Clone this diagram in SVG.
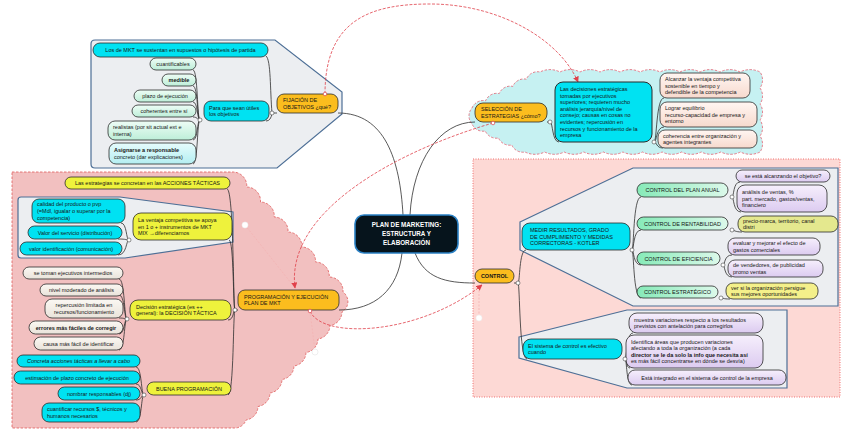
<svg xmlns="http://www.w3.org/2000/svg" width="848" height="433" viewBox="0 0 848 433">
<defs>
<linearGradient id="gMint" x1="0" y1="0" x2="0" y2="1"><stop offset="0" stop-color="#eefdf6"/><stop offset="1" stop-color="#bdeed8"/></linearGradient>
<linearGradient id="gLcy" x1="0" y1="0" x2="0" y2="1"><stop offset="0" stop-color="#e6fcfc"/><stop offset="1" stop-color="#b4eef2"/></linearGradient>
<linearGradient id="gLav" x1="0" y1="0" x2="0" y2="1"><stop offset="0" stop-color="#f6effc"/><stop offset="1" stop-color="#dccbf0"/></linearGradient>
<linearGradient id="gPeach" x1="0" y1="0" x2="0" y2="1"><stop offset="0" stop-color="#fff6f2"/><stop offset="1" stop-color="#f7d9cd"/></linearGradient>
<linearGradient id="gWh" x1="0" y1="0" x2="0" y2="1"><stop offset="0" stop-color="#fbf8f3"/><stop offset="1" stop-color="#e9e3da"/></linearGradient>
<linearGradient id="gGr" x1="0" y1="0" x2="1" y2="0"><stop offset="0" stop-color="#86eab8"/><stop offset="1" stop-color="#dcf9ea"/></linearGradient>
<marker id="ar" viewBox="0 0 10 10" refX="9" refY="5" markerWidth="6" markerHeight="6" orient="auto" markerUnits="userSpaceOnUse"><path d="M0,0 L10,5 L0,10 z" fill="#e0404a"/></marker>
<style>
.t{font-family:"Liberation Sans",Arial,sans-serif;font-size:5.5px;fill:#161616}
.c{text-anchor:middle}
.b{font-weight:bold}
.i{font-style:italic}
.n{stroke:#2b2b2b;stroke-width:0.8}
.cy{fill:#00e2f2}
.or{fill:#fbbd1e}
.ye{fill:#eef23c}
.mi{fill:url(#gMint)}
.lc{fill:url(#gLcy)}
.la{fill:url(#gLav)}
.pe{fill:url(#gPeach)}
.wh{fill:url(#gWh)}
.gr{fill:url(#gGr)}
.ol{fill:#e4e88e}
.yl{fill:#f4f08a}
.conn path{fill:none;stroke:#2e2e2e;stroke-width:0.8}
.btn circle{fill:#fff;stroke:#444;stroke-width:0.6}
.rel{fill:none;stroke:#e0404a;stroke-width:0.8;stroke-dasharray:3 1.5}
.faint{fill:none;stroke:#f2b4b4;stroke-width:0.8;stroke-dasharray:2 1.5}
.poly{fill:#eceef1;stroke:#4d6f96;stroke-width:1.2}
</style>
</defs>
<rect width="848" height="433" fill="#ffffff"/>

<!-- regions -->
<g id="regions">
<path d="M12,172 L233,172 a14 14 0 0 1 13.75 15 a14 14 0 0 1 13.75 15 a14 14 0 0 1 13.75 15 a14 14 0 0 1 13.75 15 a14 14 0 0 1 13.75 15 a14 14 0 0 1 13.75 15 a14 14 0 0 1 13.75 15 a14 14 0 0 1 13.75 15 a12 12 0 0 1 -1 20 a14 14 0 0 1 -12 13.5 a14 14 0 0 1 -12 13.5 a14 14 0 0 1 -12 13.5 a14 14 0 0 1 -12 13.5 a14 14 0 0 1 -12 13.5 a14 14 0 0 1 -12 13.5 a14 14 0 0 1 -12 13.5 a14 14 0 0 1 -12 13.5 a12 12 0 0 1 -12 8 L12,428 Z" fill="#f2c0c0" stroke="#e05a5a" stroke-width="0.8" stroke-dasharray="2.5 1.5"/>
<rect x="473" y="159" width="367" height="238" fill="#fdd9d5" stroke="#f07070" stroke-width="1" stroke-dasharray="1 1.5"/>
<path d="M472,108 a12 12 0 0 1 13.6 -7.2 a12 12 0 0 1 13.6 -7.2 a12 12 0 0 1 13.6 -7.2 a12 12 0 0 1 13.6 -7.2 a12 12 0 0 1 13.6 -7.2 a22 22 0 0 1 20 0 a22 22 0 0 1 20 0 a22 22 0 0 1 20 0 a22 22 0 0 1 20 0 a22 22 0 0 1 20 0 a22 22 0 0 1 20 0 a22 22 0 0 1 20 0 a22 22 0 0 1 20 0 a22 22 0 0 1 20 0 a22 22 0 0 1 20 0 a22 22 0 0 1 20 0 a14 14 0 0 1 0 16 a14 14 0 0 1 0 16 a14 14 0 0 1 0 16 a14 14 0 0 1 0 16 a14 14 0 0 1 0 16 a22 22 0 0 1 -19.58 0 a22 22 0 0 1 -19.58 0 a22 22 0 0 1 -19.58 0 a22 22 0 0 1 -19.58 0 a22 22 0 0 1 -19.58 0 a22 22 0 0 1 -19.58 0 a22 22 0 0 1 -19.58 0 a22 22 0 0 1 -19.58 0 a22 22 0 0 1 -19.58 0 a22 22 0 0 1 -19.58 0 a22 22 0 0 1 -19.58 0 a22 22 0 0 1 -19.58 0 a12 12 0 0 1 -13.25 -7 a12 12 0 0 1 -13.25 -7 a12 12 0 0 1 -13.25 -7 a12 12 0 0 1 -13.25 -7 a12 12 0 0 1 0 -16 Z" fill="#c6f1f2" stroke="#e06070" stroke-width="0.8" stroke-dasharray="2.5 1.5"/>
<path class="poly" d="M91,44 Q91,40 95,40 L275,40 L342,92 L342,114 L277,168 L95,168 Q91,168 91,164 Z"/>
<path class="poly" d="M18,200 Q18,197 21,197 L120,197 L233,212 L233,242 L125,258 L21,258 Q18,258 18,255 Z"/>
<path class="poly" d="M520,222 L633,168 L838,168 L838,306 L633,306 L520,250 Z"/>
<path class="poly" d="M519,337 L627,310 L787,310 L787,388 L627,388 L519,358 Z"/>
</g>

<!-- connectors -->
<g id="connectors">
<g class="conn">
<path d="M403,215 C400,160 385,113 338,113"/>
<path d="M410,215 C413,160 440,122 475,122"/>
<path d="M402,253 C398,290 375,310 339,310"/>
<path d="M415,253 C425,278 445,283 475,283"/>
<path d="M277,113 L272,113"/>
<path d="M272,113 C270,90 271,60 266,56"/>
<path d="M272,113 Q271,121 266,121"/>
<path d="M200,120 C197,120 198,70 193,70"/>
<path d="M200,120 C197,120 198,86 193,86"/>
<path d="M200,120 C197,120 198,102 193,102"/>
<path d="M200,120 C197,120 198,117 193,117"/>
<path d="M200,120 C197,120 198,140 193,140"/>
<path d="M200,120 C197,120 198,164 193,164"/>
<path d="M547,122 L550,122"/>
<path d="M550,122 C553,122 552,142 559,142"/>
<path d="M654,142 C657,142 656,98 664,98"/>
<path d="M654,142 C657,142 656,127 664,127"/>
<path d="M654,142 C657,142 656,148 663,148"/>
<path d="M238,310 L235,310"/>
<path d="M235,310 C233,310 234,189 227,189"/>
<path d="M235,310 C233,310 234,240 229,240"/>
<path d="M235,310 C233,310 234,320 228,320"/>
<path d="M235,310 C233,310 234,395 228,395"/>
<path d="M129,240 C126,240 127,223 121,223"/>
<path d="M129,240 C126,240 127,239 118,239"/>
<path d="M129,240 C126,240 127,255 118,255"/>
<path d="M127,319 C124,319 125,279 119,279"/>
<path d="M127,319 C124,319 125,295 119,295"/>
<path d="M127,319 C124,319 125,318 119,318"/>
<path d="M127,319 C124,319 125,334 119,334"/>
<path d="M127,319 C124,319 125,350 119,350"/>
<path d="M144,395 C141,395 142,367 136,367"/>
<path d="M144,395 C141,395 142,384 136,384"/>
<path d="M144,395 C141,395 142,400 136,400"/>
<path d="M144,395 C141,395 142,422 136,422"/>
<path d="M514,283 L518,283"/>
<path d="M518,283 C520,283 519,250 526,250"/>
<path d="M518,283 C520,283 519,359 527,359"/>
<path d="M630,250 L632,250"/>
<path d="M632,250 C634,250 633,197 641,197"/>
<path d="M632,250 C634,250 633,230 641,230"/>
<path d="M632,250 C634,250 633,265 641,265"/>
<path d="M632,250 C634,250 633,298 641,298"/>
<path d="M732,197 C734,197 733,182 740,182"/>
<path d="M732,197 C734,197 733,212 741,212"/>
<path d="M732,230 C734,230 735,232 742,232"/>
<path d="M723,265 C725,265 724,255 732,255"/>
<path d="M723,265 C725,265 724,277 732,277"/>
<path d="M721,298 C723,298 723,299 730,299"/>
<path d="M625,359 C627,359 626,333 633,333"/>
<path d="M625,359 C627,359 626,368 630,368"/>
<path d="M625,359 C627,359 626,385 632,385"/>
</g>
<path class="faint" d="M245,225 L295,288"/>
<path class="faint" d="M310,311 L315,351"/>
<path class="faint" d="M479,287 L479,318"/>
<path class="rel" d="M325,94 C325,20 370,4 430,4 C500,4 560,40 578,82" marker-end="url(#ar)"/>
<path class="rel" d="M493,123 C400,150 285,210 295,288" marker-end="url(#ar)"/>
<path class="rel" d="M310,311 C322,340 420,335 482,285" marker-end="url(#ar)"/>
</g>

<!-- nodes -->
<g id="n-center"><rect x="355" y="215" width="103" height="38" rx="9" fill="#06141c" stroke="#2a80c4" stroke-width="1.6"/>
<text class="t c b" x="406.5" y="227" style="fill:#fff;font-size:6.3px">PLAN DE MARKETING:</text>
<text class="t c b" x="406.5" y="236" style="fill:#fff;font-size:6.3px">ESTRUCTURA Y</text>
<text class="t c b" x="406.5" y="245" style="fill:#fff;font-size:6.3px">ELABORACIÓN</text></g>

<g id="n-fijacion"><rect class="n or" x="277" y="94" width="61" height="19" rx="7"/>
<text class="t" x="283" y="102.2">FIJACIÓN DE</text><text class="t" x="283" y="108.8">OBJETIVOS ¿qué?</text></g>
<g id="n-losmkt"><rect class="n cy" x="93" y="43" width="175" height="14" rx="7"/>
<text class="t c" x="180.5" y="52">Los de MKT se sustentan en supuestos o hipótesis de partida</text></g>
<g id="n-para"><rect class="n cy" x="204" y="101" width="65" height="20" rx="7"/>
<text class="t" x="209" y="109.7">Para que sean útiles</text><text class="t" x="209" y="116.3">los objetivos</text></g>
<g id="n-cuant"><rect class="n mi" x="150" y="58" width="46" height="12" rx="6"/><text class="t c" x="173" y="66">cuantificables</text></g>
<g id="n-medible"><rect class="n mi" x="162" y="74" width="34" height="12" rx="6"/><text class="t c b" x="179" y="82">medible</text></g>
<g id="n-plazo"><rect class="n mi" x="134" y="90" width="62" height="12" rx="6"/><text class="t c" x="165" y="98">plazo de ejecución</text></g>
<g id="n-coher"><rect class="n mi" x="132" y="105" width="64" height="12" rx="6"/><text class="t c" x="164" y="113">coherentes entre sí</text></g>
<g id="n-real"><rect class="n mi" x="108" y="121" width="88" height="19" rx="7"/>
<text class="t" x="113" y="129.2">realistas (por sit actual ext e</text><text class="t" x="113" y="135.8">interna)</text></g>
<g id="n-asig"><rect class="n lc" x="109" y="143" width="87" height="21" rx="7"/>
<text class="t b" x="114" y="152.2">Asignarse a responsable</text><text class="t" x="114" y="158.8">concreto (dar explicaciones)</text></g>

<g id="n-seleccion"><rect class="n or" x="475" y="103" width="72" height="19" rx="8"/>
<text class="t" x="481" y="111.2">SELECCIÓN DE</text><text class="t" x="481" y="117.8">ESTRATEGIAS ¿cómo?</text></g>
<g id="n-decis"><rect class="n cy" x="555" y="82" width="97" height="60" rx="8" style="stroke-width:1"/>
<text class="t" x="560" y="90.9">Las decisiones estratégicas</text>
<text class="t" x="560" y="97.5">tomadas por ejecutivos</text>
<text class="t" x="560" y="104.1">superiores; requieren mucho</text>
<text class="t" x="560" y="110.7">análisis jerarquía/nivel de</text>
<text class="t" x="560" y="117.3">consejo; causas en cosas no</text>
<text class="t" x="560" y="123.9">evidentes; repercusión en</text>
<text class="t" x="560" y="130.5">recursos y funcionamiento de la</text>
<text class="t" x="560" y="137.1">empresa</text></g>
<g id="n-alcanzar"><rect class="n pe" x="660" y="73" width="90" height="25" rx="7"/>
<text class="t" x="665" y="80.9">Alcanzar la ventaja competitiva</text><text class="t" x="665" y="87.5">sostenible en tiempo y</text><text class="t" x="665" y="94.1">defendible de la competencia</text></g>
<g id="n-lograr"><rect class="n pe" x="660" y="102" width="97" height="25" rx="7"/>
<text class="t" x="665" y="109.9">Lograr equilibrio</text><text class="t" x="665" y="116.5">recurso-capacidad de empresa y</text><text class="t" x="665" y="123.1">entorno</text></g>
<g id="n-coherencia"><rect class="n pe" x="658" y="130" width="99" height="18" rx="7"/>
<text class="t" x="663" y="137.7">coherencia entre organización y</text><text class="t" x="663" y="144.3">agentes integrantes</text></g>

<g id="n-programacion"><rect class="n or" x="238" y="290" width="101" height="20" rx="7"/>
<text class="t" x="244" y="298.7">PROGRAMACIÓN Y EJECUCIÓN</text><text class="t" x="244" y="305.3">PLAN DE MKT</text></g>
<g id="n-estrat"><rect class="n ye" x="65" y="177" width="165" height="12" rx="6"/><text class="t c" x="147.5" y="185">Las estrategias se concretan en las ACCIONES TÁCTICAS</text></g>
<g id="n-calidad"><rect class="n cy" x="32" y="199" width="93" height="24" rx="7"/>
<text class="t" x="37" y="206.4">calidad del producto o pvp</text><text class="t" x="37" y="213">(=Mdl, igualar o superar por la</text><text class="t" x="37" y="219.6">competencia)</text></g>
<g id="n-valorserv"><rect class="n cy" x="28" y="226" width="94" height="13" rx="6.5"/><text class="t c" x="75" y="234.5">Valor del servicio (distribución)</text></g>
<g id="n-valorid"><rect class="n cy" x="20" y="242" width="102" height="13" rx="6.5"/><text class="t c" x="71" y="250.5">valor identificación (comunicación)</text></g>
<g id="n-ventaja"><rect class="n ye" x="133" y="213" width="99" height="27" rx="8"/>
<text class="t" x="138" y="221.9">La ventaja competitiva se apoya</text><text class="t" x="138" y="228.5">en 1 o + instrumentos de MKT</text><text class="t" x="138" y="235.1">MIX →diferenciarnos</text></g>
<g id="n-setoman"><rect class="n wh" x="23" y="267" width="100" height="12" rx="6"/><text class="t c" x="73" y="275">se toman ejecutivos intermedios</text></g>
<g id="n-nivel"><rect class="n wh" x="40" y="284" width="83" height="12" rx="6"/><text class="t c" x="81.5" y="292">nivel moderado de análisis</text></g>
<g id="n-reperc"><rect class="n wh" x="45" y="299" width="78" height="19" rx="7"/>
<text class="t c" x="84" y="307.2">repercusión limitada en</text><text class="t c" x="84" y="313.8">recursos/funcionamiento</text></g>
<g id="n-errores"><rect class="n wh" x="29" y="321" width="94" height="13" rx="6.5"/><text class="t c b" x="76" y="329.5">errores más fáciles de corregir</text></g>
<g id="n-causa"><rect class="n wh" x="34" y="337" width="89" height="13" rx="6.5"/><text class="t c" x="78.5" y="345.5">causa más fácil de identificar</text></g>
<g id="n-decision"><rect class="n ye" x="130" y="300" width="101" height="20" rx="8"/>
<text class="t" x="136" y="308.7">Decisión estratégica (es ++</text><text class="t" x="136" y="315.3">general): la DECISIÓN TÁCTICA</text></g>
<g id="n-concreta"><rect class="n cy" x="17" y="355" width="123" height="12" rx="6"/><text class="t c i" x="78.5" y="363">Concreta acciones tácticas a llevar a cabo</text></g>
<g id="n-estim"><rect class="n cy" x="14" y="371" width="126" height="13" rx="6.5"/><text class="t c" x="77" y="379.5">estimación de plazo concreto de ejecución</text></g>
<g id="n-nombrar"><rect class="n cy" x="58" y="387" width="82" height="13" rx="6.5"/><text class="t c" x="99" y="395.5">nombrar responsables (dj)</text></g>
<g id="n-cuantif"><rect class="n cy" x="42" y="403" width="98" height="19" rx="7"/>
<text class="t" x="47" y="411.2">cuantificar recursos $, técnicos y</text><text class="t" x="47" y="417.8">humanos necesarios</text></g>
<g id="n-buena"><rect class="n ye" x="147" y="382" width="84" height="13" rx="6.5"/><text class="t c" x="189" y="390.5">BUENA PROGRAMACIÓN</text></g>

<g id="n-control"><rect class="n or" x="475" y="269" width="39" height="14" rx="7"/><text class="t c b" x="494.5" y="278">CONTROL</text></g>
<g id="n-medir"><rect class="n cy" x="522" y="223" width="108" height="27" rx="8"/>
<text class="t" x="530" y="231.9">MEDIR RESULTADOS, GRADO</text><text class="t" x="530" y="238.5">DE CUMPLIMIENTO Y MEDIDAS</text><text class="t" x="530" y="245.1">CORRECTORAS - KOTLER</text></g>
<g id="n-plananual"><rect class="n gr" x="637" y="183" width="91" height="14" rx="7"/><text class="t c" x="682.5" y="192">CONTROL DEL PLAN ANUAL</text></g>
<g id="n-rentab"><rect class="n gr" x="637" y="217" width="91" height="13" rx="6.5"/><text class="t c" x="682.5" y="225.5">CONTROL DE RENTABILIDAD</text></g>
<g id="n-efic"><rect class="n gr" x="637" y="252" width="83" height="13" rx="6.5"/><text class="t c" x="678.5" y="260.5">CONTROL DE EFICIENCIA</text></g>
<g id="n-estrategico"><rect class="n gr" x="637" y="286" width="81" height="12" rx="6"/><text class="t c" x="677.5" y="294">CONTROL ESTRATÉGICO</text></g>
<g id="n-seesta"><rect class="n la" x="736" y="170" width="94" height="12" rx="6"/><text class="t c" x="783" y="178">se está alcanzando el objetivo?</text></g>
<g id="n-analisis"><rect class="n la" x="737" y="185" width="90" height="27" rx="8"/>
<text class="t" x="742" y="193.9">análisis de ventas, %</text><text class="t" x="742" y="200.5">part. mercado, gastos/ventas,</text><text class="t" x="742" y="207.1">financiero</text></g>
<g id="n-precio"><rect class="n ol" x="738" y="216" width="100" height="16" rx="7"/>
<text class="t" x="743" y="222.7">precio-marca, territorio, canal</text><text class="t" x="743" y="229.3">distri</text></g>
<g id="n-evaluar"><rect class="n la" x="728" y="238" width="92" height="17" rx="7"/>
<text class="t" x="733" y="245.2">evaluar y mejorar el efecto de</text><text class="t" x="733" y="251.8">gastos comerciales</text></g>
<g id="n-vendedores"><rect class="n la" x="728" y="260" width="95" height="17" rx="7"/>
<text class="t" x="733" y="267.2">de vendedores, de publicidad</text><text class="t" x="733" y="273.8">promo ventas</text></g>
<g id="n-versi"><rect class="n yl" x="726" y="283" width="92" height="16" rx="7"/>
<text class="t" x="731" y="289.7">ver si la organización persigue</text><text class="t" x="731" y="296.3">sus mejores oportunidades</text></g>
<g id="n-sistema"><rect class="n cy" x="523" y="339" width="99" height="20" rx="8"/>
<text class="t" x="528" y="347.7">El sistema de control es efectivo</text><text class="t" x="528" y="354.3">cuando</text></g>
<g id="n-muestra"><rect class="n la" x="629" y="313" width="134" height="20" rx="8"/>
<text class="t" x="634" y="321.7">muestra variaciones respecto a los resultados</text><text class="t" x="634" y="328.3">previstos con antelación para corregirlos</text></g>
<g id="n-identifica"><rect class="n la" x="626" y="335" width="137" height="33" rx="8"/>
<text class="t" x="631" y="343.6">Identifica áreas que producen variaciones</text><text class="t" x="631" y="350.2">afectando a toda la organización (a cada</text><text class="t b" x="631" y="356.8">director se le da solo la info que necesita así</text><text class="t" x="631" y="363.4">es más fácil concentrarse en dónde se desvía)</text></g>
<g id="n-integrado"><rect class="n la" x="628" y="370" width="158" height="15" rx="7"/><text class="t c" x="707" y="380">Está integrado en el sistema de control de la empresa</text></g>

<g id="buttons" class="btn">
<circle cx="272" cy="113" r="2"/><circle cx="200" cy="120" r="2"/><circle cx="550" cy="122" r="2"/><circle cx="654" cy="142" r="2"/>
<circle cx="235" cy="310" r="2"/><circle cx="129" cy="240" r="2"/><circle cx="127" cy="319" r="2"/><circle cx="144" cy="395" r="2"/>
<circle cx="518" cy="283" r="2"/><circle cx="632" cy="250" r="2"/><circle cx="732" cy="197" r="2"/><circle cx="732" cy="230" r="2"/>
<circle cx="723" cy="265" r="2"/><circle cx="721" cy="298" r="2"/><circle cx="625" cy="359" r="2"/>
</g>
<g id="handles">
<circle cx="325" cy="94" r="1.8" fill="#fff" stroke="#e0404a" stroke-width="0.7"/>
<circle cx="493" cy="123" r="1.8" fill="#fff" stroke="#e0404a" stroke-width="0.7"/>
<circle cx="310" cy="311" r="1.8" fill="#fff" stroke="#e0404a" stroke-width="0.7"/>
<circle cx="245" cy="225" r="3" fill="#fff" stroke="#eee" stroke-width="0.6"/>
<circle cx="315" cy="352" r="3" fill="#fff" stroke="#e4e4e4" stroke-width="0.6"/>
<circle cx="479" cy="318" r="3" fill="#fff" stroke="#eee" stroke-width="0.6"/>
</g>
</svg>
